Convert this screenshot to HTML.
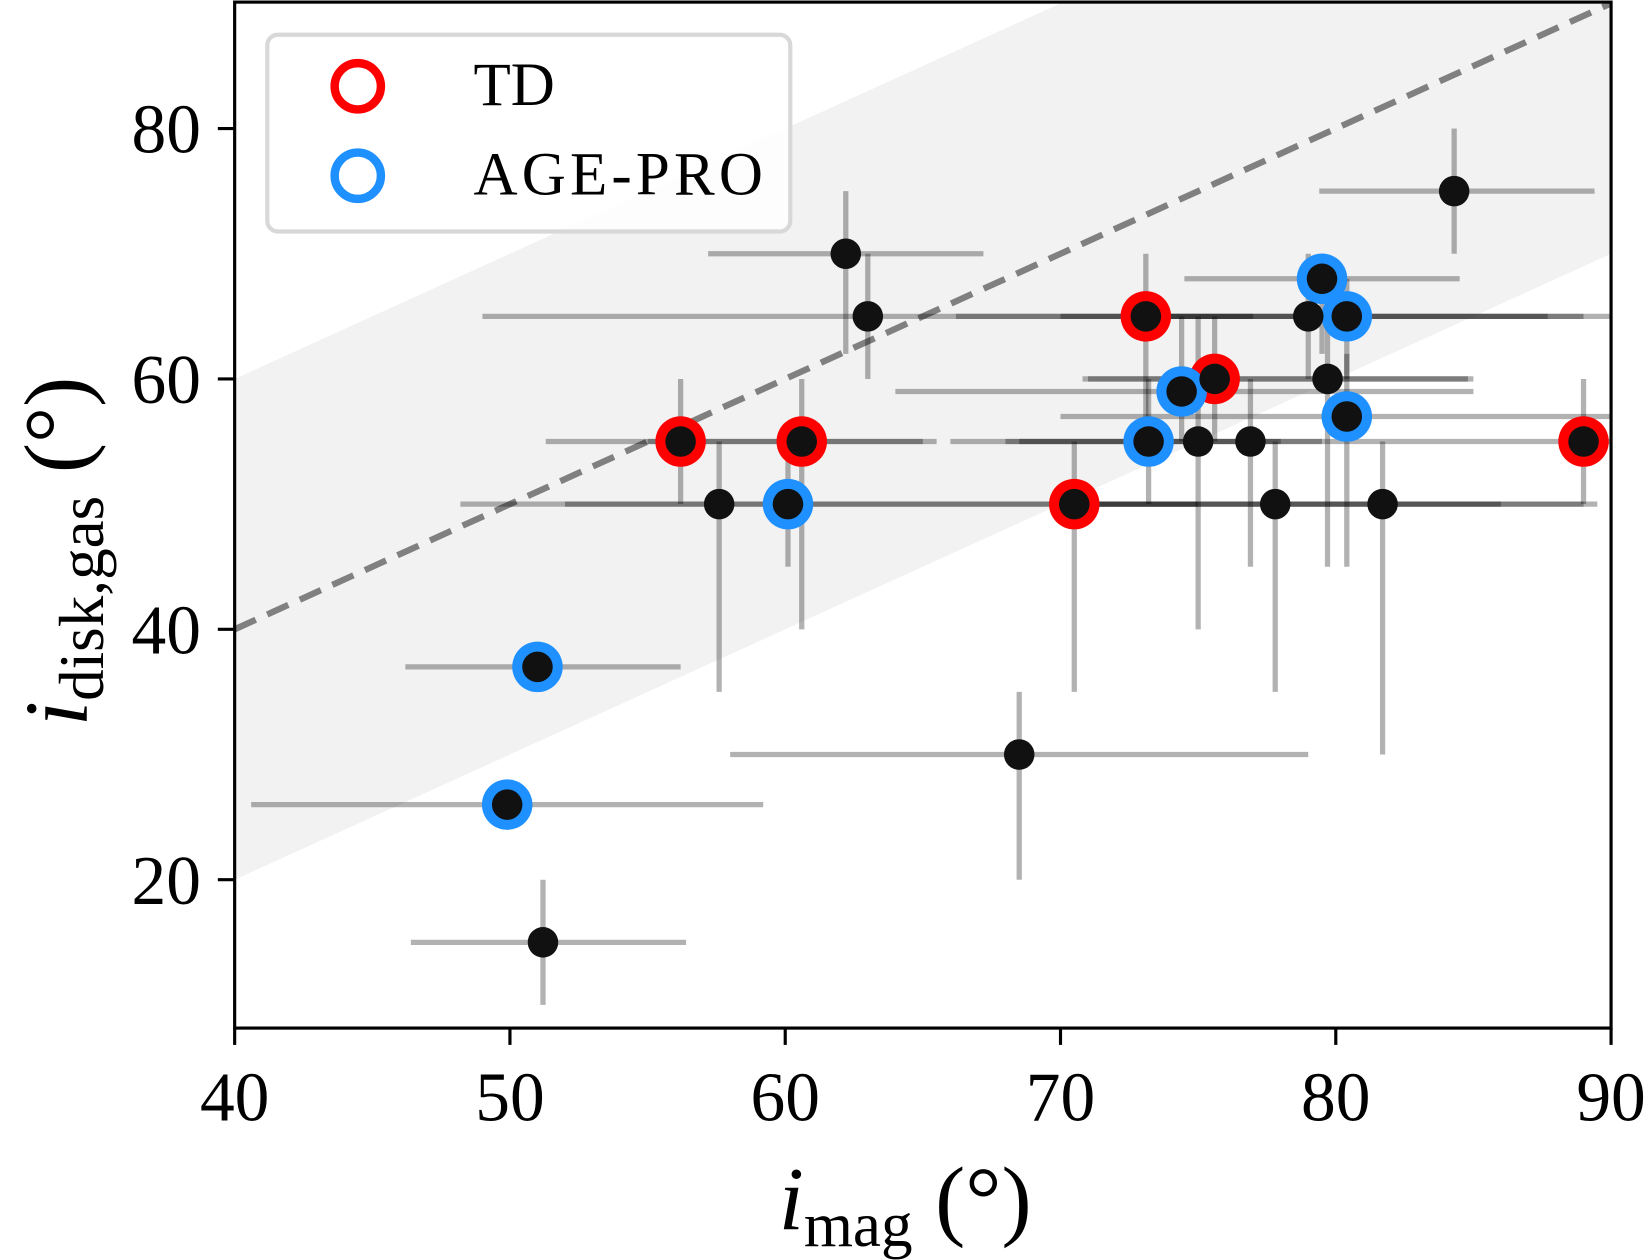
<!DOCTYPE html>
<html><head><meta charset="utf-8">
<style>
html,body{margin:0;padding:0;background:#fff;}
svg{display:block;}
text{font-family:"Liberation Serif",serif;fill:#000;}
</style></head>
<body>
<svg id="chart" width="1650" height="1260" viewBox="0 0 1568 1197.4" preserveAspectRatio="none" xmlns="http://www.w3.org/2000/svg">
<defs><clipPath id="clip"><rect x="223" y="2" width="1308" height="975"/></clipPath></defs>
<g id="plot" clip-path="url(#clip)"></g>
<g id="axes"></g>
</svg>
<script>
// data arrays
const xVals  = [84.3, 62.2, 63.0, 73.1, 79.0, 79.5, 80.4, 75.6, 79.7, 74.4, 80.4, 73.2, 75.0, 76.9, 89.0, 56.2, 60.6, 57.6, 60.1, 70.5, 77.8, 81.7, 51.0, 49.9, 68.5, 51.2];
const yVals  = [75, 70, 65, 65, 65, 68, 65, 60, 60, 59, 57, 55, 55, 55, 55, 55, 55, 50, 50, 50, 50, 50, 37, 26, 30, 15];
const xLo    = [79.4, 57.2, 49.0, 66.2, 73.0, 74.5, 70.0, 70.8, 71.0, 64.0, 70.0, 68.0, 66.0, 68.5, 82.0, 51.3, 55.0, 48.2, 52.0, 66.0, 70.0, 71.0, 46.2, 40.6, 58.0, 46.4];
const xHi    = [89.4, 67.2, 77.0, 87.7, 89.0, 84.5, 90.0, 84.8, 85.0, 85.0, 90.0, 78.0, 82.0, 79.5, 92.0, 65.5, 65.0, 66.0, 75.0, 86.0, 89.0, 89.5, 56.2, 59.2, 79.0, 56.4];
const yLo    = [70, 62, 60, 55, 60, 62, 60, 55, 45, 55, 45, 50, 40, 45, 50, 50, 40, 35, 45, 35, 35, 30, 37, 26, 20, 10];
const yHi    = [80, 75, 70, 70, 70, 70, 68, 65, 65, 65, 62, 60, 65, 60, 60, 60, 60, 55, 55, 55, 55, 55, 37, 26, 35, 20];
const groups = ["none","none","none","TD","none","AGE","AGE","TD","none","AGE","AGE","AGE","none","none","TD","TD","TD","none","AGE","TD","none","none","AGE","AGE","none","none"];
const xTicks = [40, 50, 60, 70, 80, 90];
const yTicks = [20, 40, 60, 80];

const NS = "http://www.w3.org/2000/svg";
const X0=223, X1=1531, Y0=977, YT=2;
const xmin=40, xmax=90, ymin=8.15, ymax=90.1;
const sx = v => X0 + (v - xmin) / (xmax - xmin) * (X1 - X0);
const sy = v => Y0 - (v - ymin) / (ymax - ymin) * (Y0 - YT);
function mk(tag, attrs, parent){ const e=document.createElementNS(NS,tag); for(const k in attrs) e.setAttribute(k,attrs[k]); parent.appendChild(e); return e; }
const plot=document.getElementById('plot'), axes=document.getElementById('axes');

const band = mk('polygon',{points:`${sx(40)},${sy(60)} ${sx(90)},${sy(110)} ${sx(90)},${sy(70)} ${sx(40)},${sy(20)}`,fill:'#f2f2f2'},plot);


const diag = mk('line',{x1:sx(40),y1:sy(40),x2:sx(90),y2:sy(90),stroke:'#808080','stroke-width':6,'stroke-dasharray':'22 12'},plot);



for(let i=0;i<xVals.length;i++){
  const h = mk('line',{x1:sx(xLo[i]),y1:sy(yVals[i]),x2:sx(xHi[i]),y2:sy(yVals[i]),stroke:'rgba(0,0,0,0.3)','stroke-width':5},plot);
  
  
  if(yHi[i]>yLo[i]){
    const v = mk('line',{x1:sx(xVals[i]),y1:sy(yLo[i]),x2:sx(xVals[i]),y2:sy(yHi[i]),stroke:'rgba(0,0,0,0.3)','stroke-width':5},plot);
    
    
  }
}
for(let i=0;i<xVals.length;i++){
  if(groups[i]==='none') continue;
  const c = mk('circle',{cx:sx(xVals[i]),cy:sy(yVals[i]),r:24,fill:groups[i]==='TD'?'#f00':'#1e90ff'},plot);
  
  
}
for(let i=0;i<xVals.length;i++){
  const c = mk('circle',{cx:sx(xVals[i]),cy:sy(yVals[i]),r:14.5,fill:'#111'},plot);
  
  
}
const fr = mk('rect',{x:X0,y:YT,width:X1-X0,height:Y0-YT,fill:'none',stroke:'#000','stroke-width':3},axes);


xTicks.forEach(t=>{
  const l = mk('line',{x1:sx(t),y1:Y0,x2:sx(t),y2:Y0+16,stroke:'#000','stroke-width':3},axes);
  
  
  const tx = mk('text',{x:sx(t),y:Y0+88,'text-anchor':'middle','font-size':66},axes);
  tx.textContent=t;
  
  
});
yTicks.forEach(t=>{
  const l = mk('line',{x1:X0-16,y1:sy(t),x2:X0,y2:sy(t),stroke:'#000','stroke-width':3},axes);
  
  
  const tx = mk('text',{x:X0-32,y:sy(t)+23,'text-anchor':'end','font-size':66},axes);
  tx.textContent=t;
  
  
});
</script>
<svg style="position:absolute;left:0;top:0" width="1650" height="1260" viewBox="0 0 1568 1197.4" preserveAspectRatio="none" xmlns="http://www.w3.org/2000/svg">
 <g>
  <rect x="254" y="33" width="497" height="187" rx="10" fill="rgba(255,255,255,0.8)" stroke="#d8d8d8" stroke-width="4"/>
  <circle cx="340" cy="82" r="22" fill="none" stroke="#f00" stroke-width="8"/>
  <text x="450" y="100" font-size="58" style="font-family:'Liberation Serif',serif">TD</text>
  <circle cx="340" cy="167" r="22" fill="none" stroke="#1e90ff" stroke-width="8"/>
  <text x="450" y="185" font-size="58" style="font-family:'Liberation Serif',serif" textLength="275">AGE-PRO</text>
 </g>
 <text x="740" y="1168" font-size="86" style="font-family:'Liberation Serif',serif"><tspan font-style="italic">i</tspan><tspan font-size="60" dy="16">mag</tspan><tspan dy="-16"> (°)</tspan></text>
 <text transform="translate(82,690) rotate(-90)" font-size="86" style="font-family:'Liberation Serif',serif"><tspan font-style="italic">i</tspan><tspan font-size="60" dy="16">disk,gas</tspan><tspan dy="-16"> (°)</tspan></text>
</svg>
</body></html>
